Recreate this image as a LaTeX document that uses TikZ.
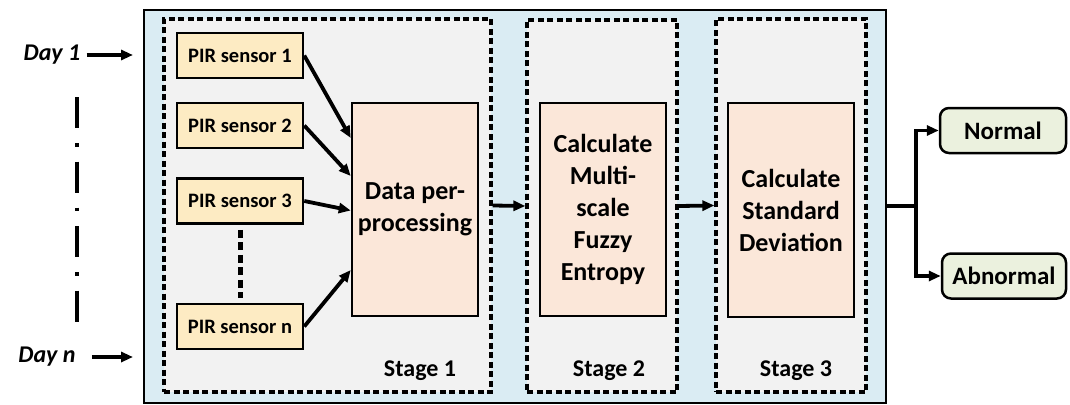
\documentclass[tikz,border=0pt]{standalone}
\usepackage{fontspec}
\setmainfont{Carlito}
\usetikzlibrary{arrows.meta}
\definecolor{outerblue}{HTML}{DAECF3}
\definecolor{stagegray}{HTML}{F2F2F2}
\definecolor{sensorfill}{HTML}{FDEBC3}
\definecolor{procfill}{HTML}{FBE7D9}
\definecolor{resfill}{HTML}{EBF1DE}
\tikzset{
  every node/.style={font=\bfseries},
  sensorbox/.style={draw, line width=2.5pt, fill=sensorfill, minimum width=126pt, minimum height=45pt, inner sep=0pt, font=\fontsize{20.5}{24}\selectfont\bfseries},
  procbox/.style={draw, line width=2.5pt, fill=procfill, minimum width=126pt, inner sep=0pt, align=center, font=\fontsize{26}{32}\selectfont\bfseries},
  stageframe/.style={draw, line width=3.2pt, dash pattern=on 6pt off 3.5pt, fill=stagegray, inner sep=0pt},
  resbox/.style={draw, line width=2.5pt, fill=resfill, rounded corners=9pt, minimum height=45pt, inner sep=0pt, font=\fontsize{25}{30}\selectfont\bfseries},
  stagelabel/.style={font=\fontsize{24}{28}\selectfont\bfseries, inner sep=0pt},
  daylabel/.style={font=\fontsize{24}{28}\selectfont\bfseries\itshape, inner sep=0pt},
  arr/.style={line width=3.8pt, -{Triangle[length=12pt,width=10pt]}},
  plainline/.style={line width=3.8pt}
}
\begin{document}
\begin{tikzpicture}[x=1pt,y=-1pt]
\useasboundingbox (0,0) rectangle (1070,404);
% outer box
\node[draw, line width=2.5pt, fill=outerblue, minimum width=742pt, minimum height=393pt, inner sep=0pt] (outer) at (515,206.5) {};
% stage frames
\node[stageframe, minimum width=327pt, minimum height=373pt] (st1) at (327.5,205.5) {};
\node[stageframe, minimum width=150pt, minimum height=372pt] (st2) at (602,206) {};
\node[stageframe, minimum width=150pt, minimum height=373pt] (st3) at (791,205.5) {};
% sensors
\node[sensorbox] (s1) at (240,55.5) {PIR sensor 1};
\node[sensorbox] (s2) at (240,125.5) {PIR sensor 2};
\node[sensorbox] (s3) at (240,201) {PIR sensor 3};
\node[sensorbox] (sn) at (240,326.5) {PIR sensor n};
% processing boxes
\node[procbox, minimum height=213pt] (dp) at (415,209.5) {Data per-\\processing};
\node[procbox, minimum height=213pt] (mfe) at (603,209.5) {Calculate\\Multi-\\scale\\Fuzzy\\Entropy};
\node[procbox, minimum height=214pt] (sd) at (791,210) {Calculate\\Standard\\Deviation};
% results
\node[resbox, minimum width=126pt] (normal) at (1003,130.5) {Normal};
\node[resbox, minimum width=124pt] (abnormal) at (1004,276) {Abnormal};
% stage labels
\node[stagelabel] (l1) at (420,371) {Stage 1};
\node[stagelabel] (l2) at (609,371) {Stage 2};
\node[stagelabel] (l3) at (796,371) {Stage 3};
% day labels
\node[daylabel] (day1) at (52,55) {Day 1};
\node[daylabel] (dayn) at (47,357) {Day n};
\coordinate (d1tip) at (133,55);
\coordinate (dntip) at (133,357);
\draw[arr] ([xshift=6pt]day1.east) -- (d1tip);
\draw[arr] ([xshift=16pt]dayn.east) -- (dntip);
\draw[line width=3.8pt, dash pattern=on 31pt off 15pt on 3.5pt off 15pt] (77,97) -- (77,331);
% sensor connectors
\draw[arr] (s1.east) -- ([yshift=71.5pt]dp.west);
\draw[arr] (s2.east) -- ([yshift=33.5pt]dp.west);
\draw[arr] (s3.east) -- ([yshift=-1pt]dp.west);
\draw[arr] (sn.east) -- ([yshift=-60.5pt]dp.west);
\draw[line width=5pt, dash pattern=on 8pt off 4.5pt, shorten <=5pt, shorten >=5pt] (s3.south) -- (sn.north);
% stage connectors
\draw[arr] (st1.east) -- (st2.west);
\draw[arr] (st2.east) -- (st3.west);
% output
\coordinate (split) at (916,206);
\draw[plainline] (outer.east |- split) -- (split);
\draw[arr] (split) |- (normal.west);
\draw[arr] (split) |- (abnormal.west);
\end{tikzpicture}
\end{document}
